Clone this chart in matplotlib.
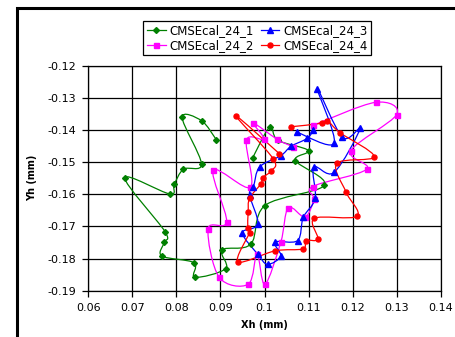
import matplotlib
matplotlib.use("Agg")
import matplotlib.pyplot as plt
from matplotlib.path import Path
from matplotlib.patches import PathPatch, Rectangle
from matplotlib.lines import Line2D
import numpy as np

plt.rcParams['font.family'] = ['DejaVu Sans']
plt.rcParams['axes.unicode_minus'] = False

series_names = ["CMSEcal_24_1", "CMSEcal_24_2", "CMSEcal_24_3", "CMSEcal_24_4"]

green_x = [0.0891, 0.0857, 0.0813, 0.0857, 0.0816, 0.0795, 0.0785, 0.0683, 0.0774, 0.0772, 0.0767, 0.0840,
           0.0842, 0.0912, 0.0904, 0.0969, 0.1001, 0.1136, 0.1070, 0.1100, 0.1030, 0.1012, 0.0973]
green_y = [-0.1431, -0.1371, -0.1361, -0.1506, -0.1522, -0.1569, -0.1599, -0.1549, -0.1716, -0.1750, -0.1792, -0.1813,
           -0.1858, -0.1831, -0.1773, -0.1755, -0.1635, -0.1572, -0.1495, -0.1464, -0.1432, -0.1391, -0.1487]

magenta_x = [0.1111, 0.1252, 0.1300, 0.1196, 0.1232, 0.1109, 0.1112, 0.1092, 0.1054, 0.1037, 0.1001, 0.0983,
             0.0963, 0.0897, 0.0872, 0.0914, 0.0884, 0.0968, 0.0959, 0.0999, 0.0975, 0.1029, 0.1064]
magenta_y = [-0.1385, -0.1314, -0.1352, -0.1464, -0.1522, -0.1576, -0.1615, -0.1671, -0.1642, -0.1749, -0.1880, -0.1786,
             -0.1880, -0.1858, -0.1707, -0.1685, -0.1525, -0.1578, -0.1431, -0.1429, -0.1379, -0.1429, -0.1452]

blue_x = [0.1074, 0.1158, 0.1120, 0.1177, 0.1217, 0.1158, 0.1112, 0.1115, 0.1088, 0.1075, 0.1024, 0.1037,
          0.1007, 0.0985, 0.0950, 0.0985, 0.0966, 0.0975, 0.0989, 0.1037, 0.1060, 0.1097, 0.1111]
blue_y = [-0.1407, -0.1441, -0.1272, -0.1423, -0.1395, -0.1532, -0.1516, -0.1613, -0.1672, -0.1744, -0.1749, -0.1792,
          -0.1818, -0.1787, -0.1720, -0.1693, -0.1602, -0.1576, -0.1515, -0.1480, -0.1451, -0.1426, -0.1400]

red_x = [0.1034, 0.0935, 0.1020, 0.1015, 0.0996, 0.0992, 0.0966, 0.0963, 0.0962, 0.0966, 0.0940, 0.1024,
         0.1087, 0.1094, 0.1121, 0.1113, 0.1210, 0.1185, 0.1164, 0.1249, 0.1171, 0.1143, 0.1131, 0.1060]
red_y = [-0.1474, -0.1356, -0.1490, -0.1527, -0.1548, -0.1567, -0.1613, -0.1654, -0.1705, -0.1719, -0.1810, -0.1776,
         -0.1770, -0.1744, -0.1739, -0.1675, -0.1668, -0.1593, -0.1504, -0.1483, -0.1408, -0.1371, -0.1379, -0.1390]

x_ticks = [0.06, 0.07, 0.08, 0.09, 0.10, 0.11, 0.12, 0.13, 0.14]
x_tick_labels = ["0.06", "0.07", "0.08", "0.09", "0.1", "0.11", "0.12", "0.13", "0.14"]
y_ticks = [-0.12, -0.13, -0.14, -0.15, -0.16, -0.17, -0.18, -0.19]
y_tick_labels = ["-0.12", "-0.13", "-0.14", "-0.15", "-0.16", "-0.17", "-0.18", "-0.19"]

series = [
    (green_x, green_y, "#008000", "D", 3.0),
    (magenta_x, magenta_y, "#FF00FF", "s", 3.6),
    (blue_x, blue_y, "#0000FF", "^", 4.2),
    (red_x, red_y, "#FF0000", "o", 3.6),
]


def smooth_path(xs, ys):
    p = np.column_stack([xs, ys])
    n = len(p)
    verts = [p[0]]
    codes = [Path.MOVETO]
    for i in range(n - 1):
        p0 = p[i - 1] if i > 0 else p[i]
        p1 = p[i]
        p2 = p[i + 1]
        p3 = p[i + 2] if i + 2 < n else p[i + 1]
        c1 = p1 + (p2 - p0) / 6.0
        c2 = p2 - (p3 - p1) / 6.0
        verts += [c1, c2, p2]
        codes += [Path.CURVE4] * 3
    return Path(verts, codes)


W, H = 455, 337
fig = plt.figure(figsize=(W / 100, H / 100), dpi=100)
ax = fig.add_axes([88.3 / W, 1 - 290.7 / H, (440.7 - 88.3) / W, (290.7 - 65.7) / H])

ax.set_xlim(0.06, 0.14)
ax.set_ylim(-0.19, -0.12)
ax.set_xticks(x_ticks)
ax.set_xticklabels(x_tick_labels)
ax.set_yticks(y_ticks)
ax.set_yticklabels(y_tick_labels)
ax.grid(True, color="black", linewidth=0.9)
ax.set_axisbelow(True)
for s in ax.spines.values():
    s.set_color("black")
    s.set_linewidth(0.9)
ax.tick_params(direction="out", length=4, width=0.9, labelsize=8, colors="black", pad=5)

handles = []
for (xs, ys, col, mk, ms), name in zip(series, series_names):
    patch = PathPatch(smooth_path(xs, ys), facecolor="none", edgecolor=col, linewidth=0.9, zorder=3)
    ax.add_patch(patch)
    ax.plot(xs, ys, linestyle="none", marker=mk, markersize=ms, color=col, zorder=4)
    handles.append(Line2D([], [], color=col, marker=mk, markersize=ms, linewidth=0.9))

fig.text(264.5 / W, 1 - 325 / H, "Xh (mm)", ha="center", va="center", fontsize=7, fontweight="bold")
fig.text(32 / W, 1 - 178 / H, "Yh (mm)", ha="center", va="center", rotation=90, fontsize=7, fontweight="bold")

leg = fig.legend(handles, series_names, ncol=2, loc="center",
                 bbox_to_anchor=((134 + 380) / 2 / W, 1 - 38 / H),
                 fontsize=8.5, handlelength=1.6, handletextpad=0.3, columnspacing=0.6,
                 borderpad=0.3, labelspacing=0.15, frameon=True, fancybox=False, framealpha=1)
leg.get_frame().set_edgecolor("black")
leg.get_frame().set_linewidth(0.9)

fig.patches.append(Rectangle((16.5 / W, -0.05), (W + 20) / W, 1 - 7.5 / H + 0.05,
                             transform=fig.transFigure, fill=False, edgecolor="black",
                             linewidth=2.2, zorder=10))

fig.savefig("out.png", dpi=100)
